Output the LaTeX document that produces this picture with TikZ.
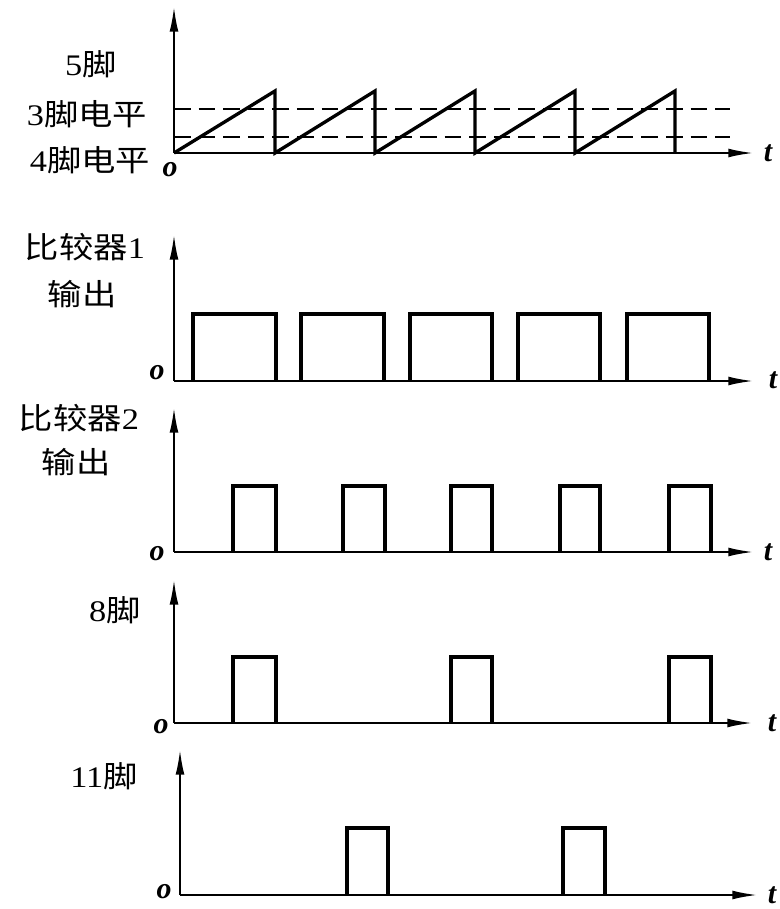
\documentclass[tikz,border=0pt]{standalone}
\usepackage{fontspec}
\setmainfont{Liberation Serif}
\newfontfamily\cjk{Noto Sans CJK SC}
\usetikzlibrary{arrows.meta}

\begin{document}
\begin{tikzpicture}[x=0.02cm, y=-0.02cm]
% Define styles
\tikzstyle{axis} = [draw, line width=1pt, -{Latex[length=14pt, width=5pt]}]
\tikzstyle{wave} = [draw, line width=1.9pt, line join=miter]
\tikzstyle{level} = [draw, line width=0.9pt, dash pattern=on 9.5pt off 4.5pt]
\tikzstyle{lbl} = [font=\fontsize{17pt}{20pt}\selectfont, xscale=1.15, inner sep=0pt]
\tikzstyle{var} = [font=\fontsize{17pt}{20pt}\selectfont\bfseries\itshape, inner sep=0pt]

    \useasboundingbox (0,0) rectangle (779,909);

    % Place axis points
    \coordinate (o1) at (174,153); \coordinate (y1) at (174,7);   \coordinate (t1) at (753,153);
    \coordinate (o2) at (174,381); \coordinate (y2) at (174,235); \coordinate (t2) at (753,381);
    \coordinate (o3) at (174,552); \coordinate (y3) at (174,408); \coordinate (t3) at (753,552);
    \coordinate (o4) at (174,723); \coordinate (y4) at (174,580); \coordinate (t4) at (752,723);
    \coordinate (o5) at (180,895); \coordinate (y5) at (180,750); \coordinate (t5) at (757,895);
    \coordinate (hi3) at (730,109);
    \coordinate (lo4) at (730,137);

    % Place labels
    \node [lbl] (pin5) at (91,64) {5{\cjk 脚}};
    \node [lbl] (pin3) at (87,114) {3{\cjk 脚电平}};
    \node [lbl] (pin4) at (90,160) {4{\cjk 脚电平}};
    \node [lbl] (cmp1) at (85,247) {{\cjk 比较器}1};
    \node [lbl] (cmp1out) at (82,294) {\cjk 输出};
    \node [lbl] (cmp2) at (79,418) {{\cjk 比较器}2};
    \node [lbl] (cmp2out) at (76,462) {\cjk 输出};
    \node [lbl] (pin8) at (115,610) {8{\cjk 脚}};
    \node [lbl] (pin11) at (104,776) {11{\cjk 脚}};
    \node [var] (z1) at (170,170) {o}; \node [var] (tl1) at (768,153) {t};
    \node [var] (z2) at (157,373) {o}; \node [var] (tl2) at (773,380) {t};
    \node [var] (z3) at (157,554) {o}; \node [var] (tl3) at (768,552) {t};
    \node [var] (z4) at (161,727) {o}; \node [var] (tl4) at (772,723) {t};
    \node [var] (z5) at (164,892) {o}; \node [var] (tl5) at (772,895) {t};

    % Draw axes
    \foreach \i in {1,...,5} {
        \path [axis] (o\i) -- (y\i);
        \path [axis] (o\i) -- (t\i);
    }

    % Pin 5 ramp with the two levels
    \path [level] (174,109) -- (hi3);
    \path [level] (174,137) -- (lo4);
    \path [wave] (o1) -- (275,91) -- (275,153) -- (375,91) -- (375,153) -- (475,91)
        -- (475,153) -- (575,91) -- (575,153) -- (675,91) -- (675,153);

    % Comparator 1 output
    \foreach \a/\b in {193/276, 301/384, 410/492, 518/600, 627/709}
        \path [wave] (\a,381) |- (\b,314) -- (\b,381);
    % Comparator 2 output
    \foreach \a/\b in {233/276, 343/385, 451/492, 560/600, 669/711}
        \path [wave] (\a,552) |- (\b,486) -- (\b,552);
    % Pin 8
    \foreach \a/\b in {233/276, 451/492, 669/711}
        \path [wave] (\a,723) |- (\b,657) -- (\b,723);
    % Pin 11
    \foreach \a/\b in {347/388, 563/605}
        \path [wave] (\a,895) |- (\b,828) -- (\b,895);
\end{tikzpicture}
\end{document}
